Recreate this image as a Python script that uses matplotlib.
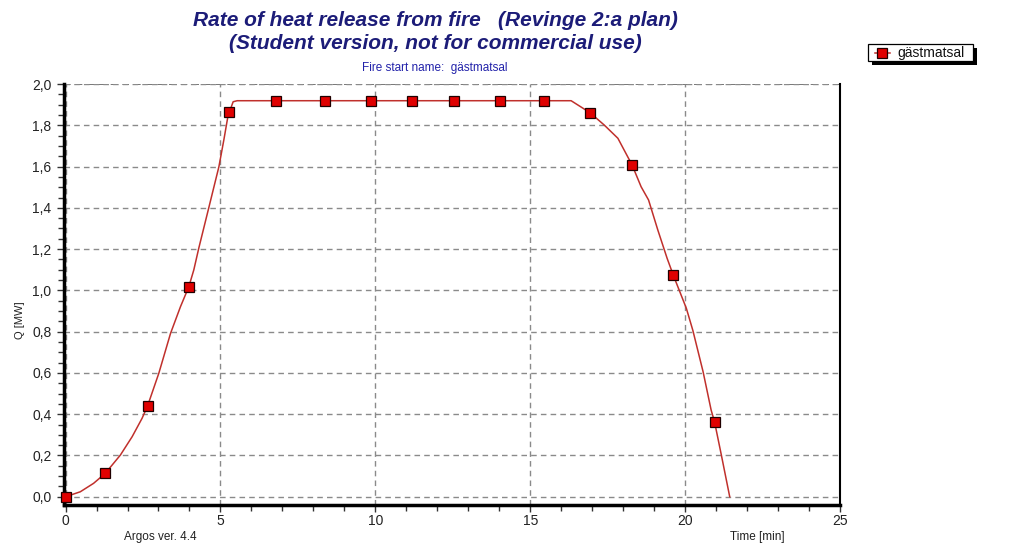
import matplotlib
matplotlib.use("Agg")
import matplotlib.pyplot as plt
from matplotlib.ticker import MultipleLocator, FuncFormatter
from matplotlib.lines import Line2D
from matplotlib.patches import Rectangle

# Marker samples (time in min, Q in MW)
marker_t = [0.0, 1.28, 2.65, 3.98, 5.29, 6.80, 8.36, 9.86, 11.17, 12.55,
            14.03, 15.45, 16.93, 18.29, 19.62, 20.95]
marker_q = [0.0, 0.113, 0.441, 1.018, 1.864, 1.919, 1.919, 1.919, 1.919, 1.919,
            1.919, 1.919, 1.861, 1.607, 1.073, 0.363]

# Curve samples
curve_t = [0.0, 0.475, 0.905, 1.28, 1.77, 2.15, 2.47, 2.65, 3.01, 3.39, 3.71,
           3.98, 4.14, 4.30, 4.62, 4.95, 5.11, 5.24, 5.29, 5.41, 5.54,
           16.32, 16.93, 17.39, 17.83, 18.29, 18.58, 18.82, 19.12, 19.42, 19.62,
           20.04, 20.25, 20.58, 20.84, 20.95, 21.17, 21.44]
curve_q = [0.0, 0.024, 0.065, 0.113, 0.202, 0.291, 0.380, 0.441, 0.598, 0.792, 0.921,
           1.018, 1.099, 1.204, 1.398, 1.599, 1.729, 1.842, 1.864, 1.914, 1.919,
           1.919, 1.861, 1.801, 1.737, 1.607, 1.502, 1.438, 1.292, 1.155, 1.073,
           0.913, 0.806, 0.606, 0.420, 0.363, 0.202, 0.0]

series_name = "gästmatsal"
title_lines = ["Rate of heat release from fire   (Revinge 2:a plan)",
               "(Student version, not for commercial use)"]
subtitle = "Fire start name:  gästmatsal"

plt.rcParams['font.family'] = ['Liberation Sans', 'DejaVu Sans']

fig = plt.figure(figsize=(10.12, 5.45), dpi=100)
W, H = 1012, 545


def fx(px):
    return px / W


def fy(py):
    return 1 - py / H


ax = fig.add_axes([fx(64), fy(505), (840 - 64) / W, (505 - 84) / H])

line_col = '#c0302c'
ax.plot(curve_t, curve_q, color=line_col, lw=1.1, zorder=3, solid_joinstyle='round')
ax.plot(marker_t, marker_q, ls='none', marker='s', ms=6.5, mfc='#e00000',
        mec='#200000', mew=0.9, zorder=4, clip_on=False)

ax.set_xlim(-0.05, 25)
ax.set_ylim(-0.04, 2.0)

ax.xaxis.set_major_locator(MultipleLocator(5))
ax.xaxis.set_minor_locator(MultipleLocator(1))
ax.yaxis.set_major_locator(MultipleLocator(0.2))
ax.yaxis.set_minor_locator(MultipleLocator(0.05))
ax.yaxis.set_major_formatter(FuncFormatter(lambda v, p: f"{v:.1f}".replace('.', ',')))
ax.xaxis.set_major_formatter(FuncFormatter(lambda v, p: f"{v:.0f}"))

ax.tick_params(axis='both', which='both', direction='out', colors='#333333',
               labelcolor='#222222', labelsize=10, width=1)
ax.tick_params(axis='both', which='major', length=5)
ax.tick_params(axis='both', which='minor', length=4)
ax.tick_params(axis='x', pad=1.5)
ax.tick_params(axis='y', pad=4)

ax.grid(True, which='major', ls=(0, (4, 3)), color='#8a8a8a', lw=1.0)
ax.axhline(2.0, ls=(0, (4, 3)), color='#606060', lw=1.2, zorder=1)

ax.spines['top'].set_visible(False)
ax.spines['left'].set_linewidth(2.5)
ax.spines['bottom'].set_linewidth(2.5)
ax.spines['right'].set_linewidth(1.5)
for s in ('left', 'bottom', 'right'):
    ax.spines[s].set_color('black')

fig.text(fx(20), fy(320), "Q [MW]", fontsize=8, rotation=90, ha='center',
         va='center', color='#222222')
fig.text(fx(757), fy(537), "Time [min]", fontsize=8.5, ha='center',
         va='center', color='#222222')
fig.text(fx(160), fy(537), "Argos ver. 4.4", fontsize=8.5, ha='center',
         va='center', color='#222222')

title_col = '#1c1c78'
fig.text(fx(435), fy(20), title_lines[0], fontsize=15, fontweight='bold',
         fontstyle='italic', ha='center', va='center', color=title_col)
fig.text(fx(435), fy(43), title_lines[1], fontsize=15, fontweight='bold',
         fontstyle='italic', ha='center', va='center', color=title_col)
fig.text(fx(435), fy(68), subtitle, fontsize=8.5, ha='center', va='center',
         color='#2222aa')

# Legend box with solid black drop shadow
fig.patches.append(Rectangle((fx(872), fy(65)), (973 - 868) / W, (61 - 44) / H,
                             transform=fig.transFigure, facecolor='black',
                             edgecolor='black', lw=0, zorder=5))
fig.patches.append(Rectangle((fx(868), fy(61)), (973 - 868) / W, (61 - 44) / H,
                             transform=fig.transFigure, facecolor='white',
                             edgecolor='black', lw=0.9, zorder=6))
fig.lines.append(Line2D([fx(875), fx(890)], [fy(52.5), fy(52.5)],
                        transform=fig.transFigure, color=line_col, lw=1.1, zorder=7))
fig.lines.append(Line2D([fx(882.5)], [fy(52.5)], transform=fig.transFigure,
                        ls='none', marker='s', ms=6.5, mfc='#e00000',
                        mec='#200000', mew=0.9, zorder=8))
fig.text(fx(897), fy(52.5), series_name, fontsize=10, ha='left', va='center',
         color='#111111', zorder=9)

fig.savefig("out.png", dpi=100, facecolor='white')
